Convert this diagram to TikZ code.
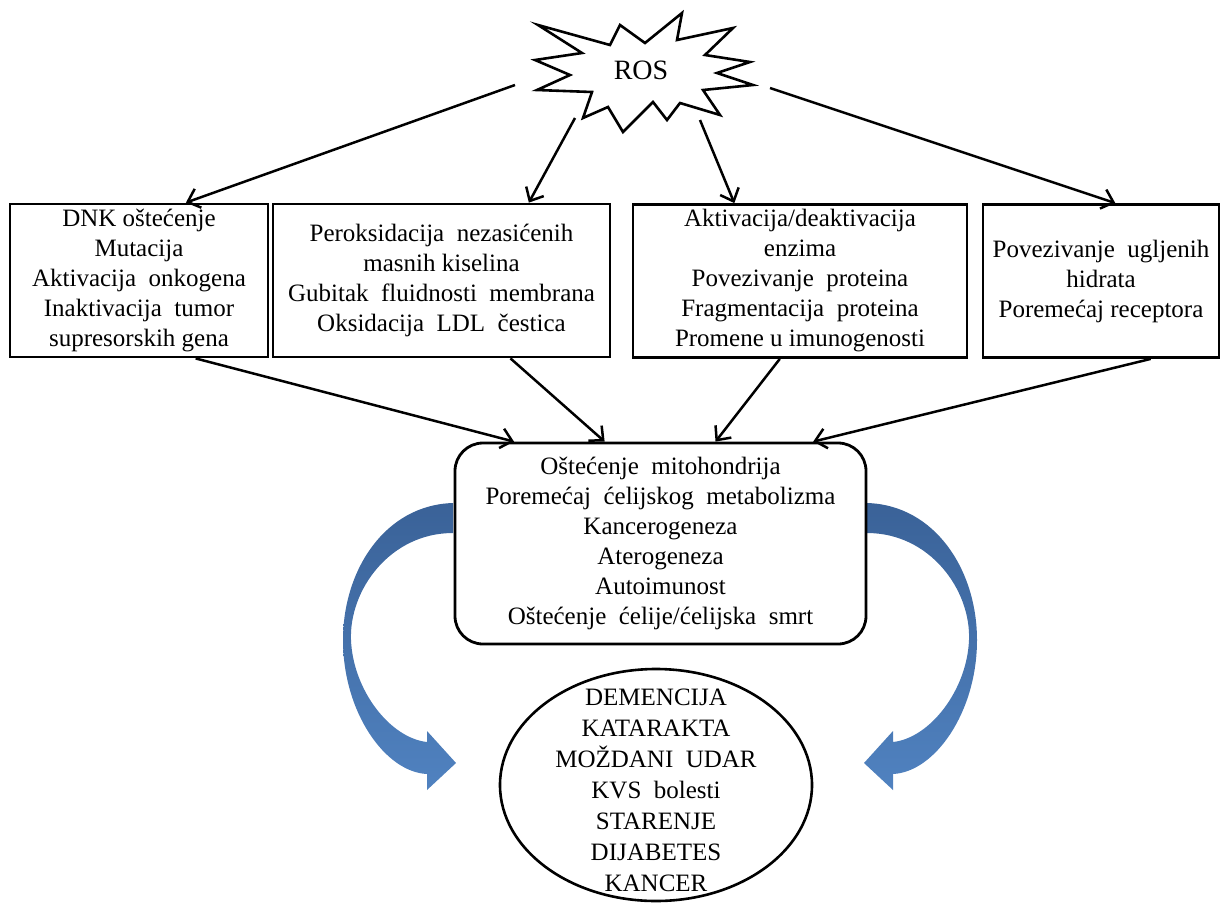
\documentclass[tikz,border=0pt]{standalone}
\usepackage{fontspec}
\setmainfont{Liberation Serif}
\usetikzlibrary{arrows.meta,shapes.geometric,calc}
\definecolor{bluedark}{RGB}{58,98,152}
\definecolor{bluelight}{RGB}{80,130,192}
\begin{document}
\begin{tikzpicture}[x=1pt,y=-1pt,
  txt/.style={align=center,font=\fontsize{25}{30}\selectfont,inner sep=0pt},
  box/.style={txt,draw,line width=2.8pt,minimum height=153pt},
  arr/.style={line width=2.5pt,-{Straight Barb[length=11pt,width=20pt]}},
  bluearrow/.style={top color=bluedark,bottom color=bluelight,draw=none},
]
\useasboundingbox (0,0) rectangle (1224,906);

% blue curved arrows
\shade[bluearrow] (453,503) .. controls (385,505) and (343,570) .. (343,640)
  .. controls (343,712) and (385,772) .. (427,774) -- (427,790) -- (456,763)
  -- (427,731) -- (427,742) .. controls (390,738) and (353,690) .. (351,640)
  .. controls (349,590) and (390,533) .. (453,533) -- cycle;
\begin{scope}[xshift=1320pt,xscale=-1]
\shade[bluearrow] (453,503) .. controls (385,505) and (343,570) .. (343,640)
  .. controls (343,712) and (385,772) .. (427,774) -- (427,790) -- (456,763)
  -- (427,731) -- (427,742) .. controls (390,738) and (353,690) .. (351,640)
  .. controls (349,590) and (390,533) .. (453,533) -- cycle;
\end{scope}

% ROS star
\draw[line width=2.6pt,fill=white] (538,25) -- (610,45) -- (620,25) -- (645,43) -- (682,13)
  -- (677,40) -- (733,28) -- (705,55) -- (750,62) -- (717,73) -- (753,85)
  -- (703,90) -- (720,115) -- (680,103) -- (667,120) -- (653,102) -- (623,132)
  -- (608,107) -- (583,118) -- (592,92) -- (537,90) -- (570,75) -- (535,60)
  -- (582,53) -- cycle;
\node[txt,font=\fontsize{28}{30}\selectfont] (ros) at (641,70) {ROS};

\coordinate (t1) at (515,85);
\coordinate (t2) at (575,118);
\coordinate (t3) at (700,120);
\coordinate (t4) at (770,88);

% boxes
\node[box,minimum width=258pt] (b1) at (139,280.5)
  {DNK oštećenje\\Mutacija\\Aktivacija~~onkogena\\Inaktivacija~~tumor\\supresorskih gena};
\node[box,minimum width=337pt] (b2) at (441.5,280.5)
  {Peroksidacija~~nezasićenih\\masnih kiselina\\Gubitak~~fluidnosti~~membrana\\Oksidacija~~LDL~~čestica};
\node[box,minimum width=334pt] (b3) at (800,281)
  {Aktivacija/deaktivacija\\enzima\\Povezivanje~~proteina\\Fragmentacija~~proteina\\Promene u imunogenosti};
\node[box,minimum width=236pt] (b4) at (1101,281)
  {Povezivanje~~ugljenih\\hidrata\\Poremećaj receptora};

\node[box,rounded corners=28pt,minimum width=411pt,minimum height=201pt] (c) at (660.5,543.5)
  {Oštećenje~~mitohondrija\\Poremećaj~~ćelijskog~~metabolizma\\Kancerogeneza\\Aterogeneza\\Autoimunost\\Oštećenje~~ćelije/ćelijska~~smrt};

\node[draw,ellipse,line width=2.6pt,minimum width=312pt,minimum height=232pt,inner sep=0pt] (e) at (656,785) {};
\node[txt,font=\fontsize{25}{31}\selectfont] (et) at ([yshift=-5pt]e.center)
  {DEMENCIJA\\KATARAKTA\\MOŽDANI~~UDAR\\KVS~~bolesti\\STARENJE\\DIJABETES\\KANCER};

% arrows from ROS
\draw[arr] (t1) -- ($(b1.north west)!0.68!(b1.north east)$);
\draw[arr] (t2) -- ($(b2.north west)!0.757!(b2.north east)$);
\draw[arr] (t3) -- ($(b3.north west)!0.305!(b3.north east)$);
\draw[arr] (t4) -- ($(b4.north west)!0.56!(b4.north east)$);

% arrows to center box
\draw[arr] ($(b1.south west)!0.717!(b1.south east)$) -- ($(c.north west)!0.146!(c.north east)$);
\draw[arr] ($(b2.south west)!0.703!(b2.south east)$) -- ($(c.north west)!0.365!(c.north east)$);
\draw[arr] ($(b3.south west)!0.44!(b3.south east)$) -- ($(c.north west)!0.633!(c.north east)$);
\draw[arr] ($(b4.south west)!0.708!(b4.south east)$) -- ($(c.north west)!0.869!(c.north east)$);
\end{tikzpicture}
\end{document}
